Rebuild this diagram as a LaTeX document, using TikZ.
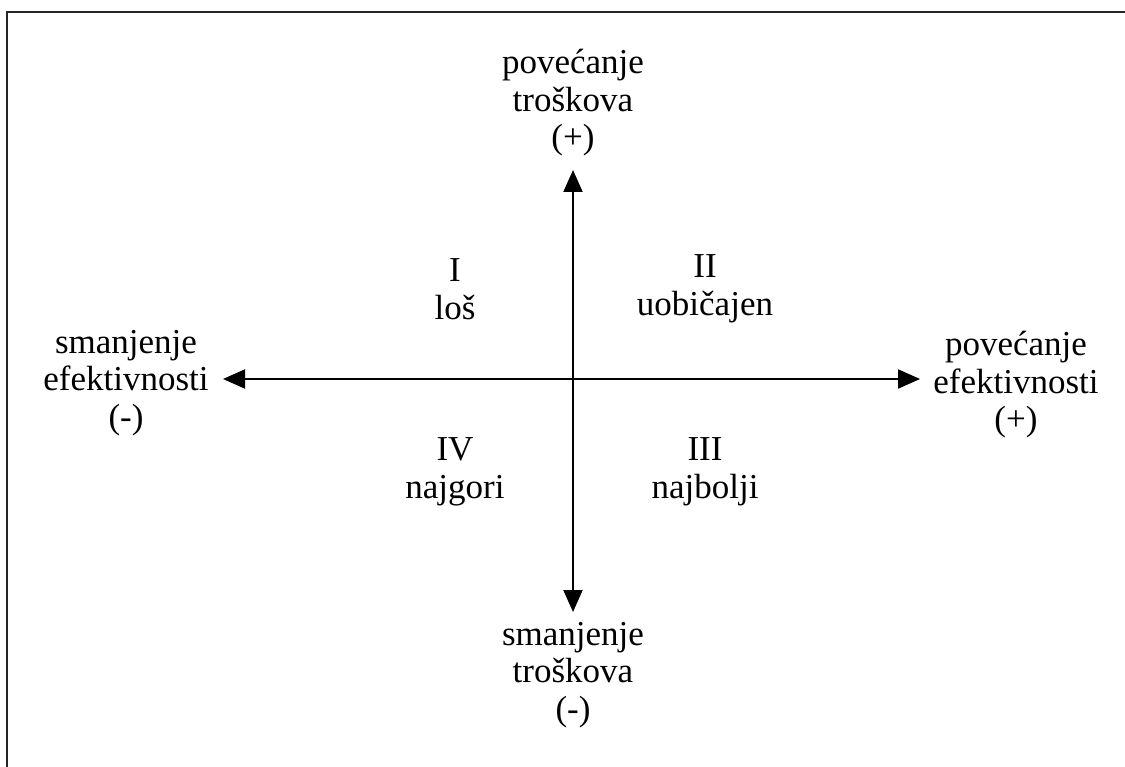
\documentclass[tikz,border=0pt]{standalone}
\usepackage{fontspec}
\setmainfont{Liberation Serif}
\usetikzlibrary{arrows.meta}
\begin{document}
\begin{tikzpicture}[x=1pt,y=-1pt,
  lbl/.style={align=center,inner sep=0pt,font=\fontsize{35}{37.5}\selectfont},
  axis/.style={line width=2pt,{Triangle[length=22pt,width=19pt]}-{Triangle[length=22pt,width=19pt]}},
  frame/.style={line width=2.8pt,draw=black!85}]
\useasboundingbox (0,0) rectangle (1125,767);
\fill[white] (0,0) rectangle (1125,767);
\coordinate (fb) at (7,780);
\coordinate (ftl) at (7,12);
\coordinate (fr) at (1140,12);
\draw[frame] (fb) -- (ftl) -- (fr);
\coordinate (O) at (573,379);
\coordinate (T) at (573,170);
\coordinate (B) at (573,612);
\coordinate (L) at (223,379);
\coordinate (R) at (920,379);
\draw[axis] (L) -- (R);
\draw[axis] (B) -- (T);
\node[lbl] (top) at (573,103) {povećanje\\troškova\\(+)};
\node[lbl] (bot) at (573,675) {smanjenje\\troškova\\(-)};
\node[lbl] (left) at (126,383) {smanjenje\\efektivnosti\\(-)};
\node[lbl] (right) at (1016,385) {povećanje\\efektivnosti\\(+)};
\node[lbl] (q1) at (455,289) {I\\loš};
\node[lbl] (q2) at (705,289) {II\\uobičajen};
\node[lbl] (q4) at (455,472) {IV\\najgori};
\node[lbl] (q3) at (705,472) {III\\najbolji};
\end{tikzpicture}
\end{document}
